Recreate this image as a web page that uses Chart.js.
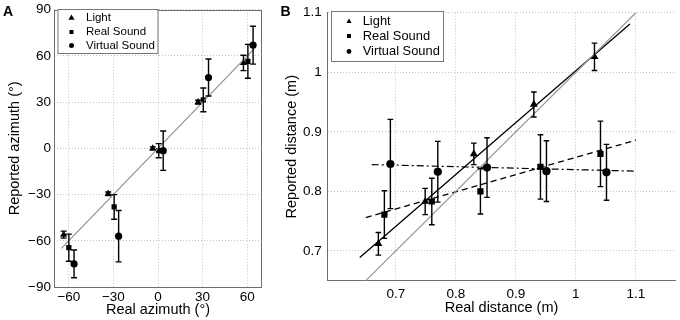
<!DOCTYPE html>
<html>
<head>
<meta charset="utf-8">
<script src="https://cdn.jsdelivr.net/npm/chart.js@4.4.1/dist/chart.umd.min.js"></script>
<style>
  html, body { margin: 0; padding: 0; background: #fff; }
  #wrap { position: relative; width: 680px; height: 320px; overflow: hidden; }
  canvas { position: absolute; top: 0; }
  #cA { left: 0; }
  #cB { left: 270px; }
</style>
</head>
<body>
<div id="wrap">
  <canvas id="cA" width="275" height="320"></canvas>
  <canvas id="cB" width="410" height="320"></canvas>
</div>
<script>
// ---------- Data ----------
const seriesNames = ['Light', 'Real Sound', 'Virtual Sound'];

// Panel A (azimuth, degrees)
const aLightX = [-63.5, -33.5, -3.5, 27, 57.5];
const aLightY = [-56, -29.5, 0, 30, 55.5];
const aLightErr = [2.3, 1.2, 1, 1.2, 5];
const aRealX = [-60, -29.5, 0.5, 30.5, 60.5];
const aRealY = [-64.5, -38, -1.5, 31.5, 56.5];
const aRealErr = [8.8, 8, 4.6, 7.7, 11];
const aVirtX = [-56.5, -26.5, 3.5, 34, 64];
const aVirtY = [-75, -57, -1.5, 46, 67];
const aVirtErr = [9, 16.7, 12.8, 12, 12.3];
const aIdentity = [-65, 65];
const aTicksX = [-60, -30, 0, 30, 60];
const aTicksY = [-90, -60, -30, 0, 30, 60, 90];

// Panel B (distance, m)
const bLightX = [0.671, 0.749, 0.830, 0.930, 1.031];
const bLightY = [0.712, 0.783, 0.863, 0.946, 1.026];
const bLightErr = [0.019, 0.022, 0.018, 0.021, 0.023];
const bRealX = [0.681, 0.760, 0.841, 0.941, 1.041];
const bRealY = [0.761, 0.783, 0.800, 0.841, 0.863];
const bRealErr = [0.040, 0.039, 0.038, 0.054, 0.055];
const bVirtX = [0.691, 0.770, 0.852, 0.951, 1.051];
const bVirtY = [0.846, 0.833, 0.840, 0.834, 0.832];
const bVirtErr = [0.075, 0.051, 0.050, 0.051, 0.047];
const bIdentity = [0.65, 1.1];
const bLightFitX = [0.64, 1.09];
const bLightFitY = [0.689, 1.081];
const bRealFitX = [0.65, 1.1];
const bRealFitY = [0.756, 0.886];
const bVirtFitX = [0.66, 1.1];
const bVirtFitY = [0.845, 0.834];
const bTicksX = [0.7, 0.8, 0.9, 1, 1.1];
const bTicksY = [0.7, 0.8, 0.9, 1, 1.1];

// ---------- Helpers ----------
const FONT = "'Liberation Sans', Arial, Helvetica, sans-serif";
Chart.defaults.font.family = FONT;
Chart.defaults.color = '#000';

const pts = (xs, ys) => xs.map((x, i) => ({ x: x, y: ys[i] }));
const fmt = v => (v < 0 ? '\u2212' + Math.abs(v) : String(v));
const setTicks = arr => (scale => { scale.ticks = arr.map(v => ({ value: v })); });

function drawMarker(ctx, style, x, y, r) {
  ctx.beginPath();
  if (style === 'triangle') {
    const w = r * Math.sqrt(3);
    ctx.moveTo(x, y - r);
    ctx.lineTo(x + w / 2, y + r / 2);
    ctx.lineTo(x - w / 2, y + r / 2);
    ctx.closePath();
  } else if (style === 'rect') {
    ctx.rect(x - r, y - r, 2 * r, 2 * r);
  } else {
    ctx.arc(x, y, r, 0, Math.PI * 2);
  }
  ctx.fill();
}

const errorBarPlugin = {
  id: 'errorBars',
  afterDatasetsDraw(chart, args, opts) {
    const { ctx, scales: { x, y } } = chart;
    ctx.save();
    ctx.strokeStyle = '#000';
    ctx.lineWidth = opts.lineWidth || 1.4;
    chart.data.datasets.forEach(ds => {
      if (!ds.errorBars) return;
      ds.data.forEach((p, i) => {
        const e = ds.errorBars[i];
        const px = x.getPixelForValue(p.x);
        const y1 = y.getPixelForValue(p.y + e);
        const y2 = y.getPixelForValue(p.y - e);
        const c = opts.cap || 3;
        ctx.beginPath();
        ctx.moveTo(px, y1); ctx.lineTo(px, y2);
        ctx.moveTo(px - c, y1); ctx.lineTo(px + c, y1);
        ctx.moveTo(px - c, y2); ctx.lineTo(px + c, y2);
        ctx.stroke();
      });
    });
    ctx.restore();
  }
};

const decorPlugin = {
  id: 'decor',
  afterDraw(chart, args, opts) {
    const ctx = chart.ctx;
    const ca = chart.chartArea;
    ctx.save();
    if (opts.frame) {
      ctx.strokeStyle = '#6e6e6e';
      ctx.lineWidth = 1;
      ctx.strokeRect(Math.round(ca.left) + 0.5, Math.round(ca.top) + 0.5,
        Math.round(ca.right - ca.left) - 1, Math.round(ca.bottom - ca.top));
    }
    const L = opts.legend;
    if (L) {
      ctx.fillStyle = '#fff';
      ctx.fillRect(L.x, L.y, L.w, L.h);
      ctx.strokeStyle = '#777';
      ctx.lineWidth = 1;
      ctx.strokeRect(L.x + 0.5, L.y + 0.5, L.w, L.h);
      ctx.font = L.fontSize + 'px ' + FONT;
      ctx.textBaseline = 'middle';
      ctx.textAlign = 'left';
      seriesNames.forEach((name, i) => {
        const yy = L.rows[i];
        ctx.fillStyle = '#000';
        drawMarker(ctx, L.styles[i], L.markerX, yy, L.sizes[i]);
        ctx.fillText(name, L.textX, yy);
      });
    }
    if (opts.letter) {
      ctx.fillStyle = '#000';
      ctx.font = 'bold 14px ' + FONT;
      ctx.textBaseline = 'alphabetic';
      ctx.textAlign = 'left';
      ctx.fillText(opts.letter.text, opts.letter.x, opts.letter.y);
    }
    ctx.restore();
  }
};

function scatterSet(xs, ys, errs, style, r) {
  return {
    data: pts(xs, ys), errorBars: errs, showLine: false,
    pointStyle: style, pointRadius: r, pointHoverRadius: r,
    backgroundColor: '#000', borderColor: '#000', borderWidth: 0
  };
}
function lineSet(xs, ys, color, width, dash) {
  return {
    data: pts(xs, ys), showLine: true, pointRadius: 0, pointHoverRadius: 0,
    borderColor: color, borderWidth: width, borderDash: dash || [], fill: false
  };
}

const gridCommon = { color: '#c4c4c4', lineWidth: 1, drawTicks: false };
const tickFont = { size: 13.5, family: FONT, lineHeight: 1.2 };
const titleFont = { size: 14.5, family: FONT, lineHeight: 1.2 };

// ---------- Panel A ----------
new Chart(document.getElementById('cA'), {
  type: 'scatter',
  data: {
    datasets: [
      lineSet(aIdentity, aIdentity, '#8c8c8c', 1.1),
      scatterSet(aLightX, aLightY, aLightErr, 'triangle', 4.2),
      scatterSet(aRealX, aRealY, aRealErr, 'rect', 3.7),
      scatterSet(aVirtX, aVirtY, aVirtErr, 'circle', 3.6)
    ]
  },
  options: {
    responsive: false, animation: false, devicePixelRatio: 1,
    layout: { padding: { top: 6, right: 13, bottom: 0, left: 0 } },
    plugins: {
      legend: { display: false }, tooltip: { enabled: false },
      errorBars: { lineWidth: 1.4, cap: 3 },
      decor: {
        frame: true,
        legend: { x: 57.5, y: 9, w: 100, h: 44, fontSize: 11.5, markerX: 71.5, textX: 86,
          rows: [18, 32, 45.5], styles: ['triangle', 'rect', 'circle'], sizes: [3.6, 2, 2.5] },
        letter: { text: 'A', x: 3, y: 16 }
      }
    },
    scales: {
      x: {
        type: 'linear', min: -70, max: 70,
        afterBuildTicks: setTicks(aTicksX),
        afterFit: s => { s.height = 33; },
        grid: gridCommon,
        border: { display: false, dash: [1, 2] },
        ticks: { font: tickFont, padding: 2, maxRotation: 0, autoSkip: false, callback: fmt, color: '#000' },
        title: { display: true, text: 'Real azimuth (°)', font: titleFont, color: '#000', padding: { top: 0, bottom: 1.3 } }
      },
      y: {
        type: 'linear', min: -90, max: 90,
        afterBuildTicks: setTicks(aTicksY),
        afterFit: s => { s.width = 54; },
        grid: gridCommon,
        border: { display: false, dash: [1, 2] },
        ticks: { font: { size: 13.5, family: FONT, lineHeight: 1 }, padding: 3, autoSkip: false, callback: fmt, color: '#000' },
        title: { display: true, text: 'Reported azimuth (°)', font: titleFont, color: '#000', padding: { top: 6.3, bottom: 0 } }
      }
    }
  },
  plugins: [errorBarPlugin, decorPlugin]
});

// ---------- Panel B ----------
new Chart(document.getElementById('cB'), {
  type: 'scatter',
  data: {
    datasets: [
      lineSet(bIdentity, bIdentity, '#9a9a9a', 1.2),
      lineSet(bLightFitX, bLightFitY, '#000', 1.3),
      lineSet(bRealFitX, bRealFitY, '#000', 1.3, [6, 4]),
      lineSet(bVirtFitX, bVirtFitY, '#000', 1.2, [7, 3, 2, 3]),
      scatterSet(bLightX, bLightY, bLightErr, 'triangle', 4.6),
      scatterSet(bRealX, bRealY, bRealErr, 'rect', 4.4),
      scatterSet(bVirtX, bVirtY, bVirtErr, 'circle', 4.1)
    ]
  },
  options: {
    responsive: false, animation: false, devicePixelRatio: 1,
    layout: { padding: { top: 7.5, right: 0, bottom: 0, left: 0 } },
    plugins: {
      legend: { display: false }, tooltip: { enabled: false },
      errorBars: { lineWidth: 1.4, cap: 2.8 },
      decor: {
        frame: false,
        legend: { x: 61, y: 11, w: 112, h: 50, fontSize: 12.9, markerX: 79, textX: 92.7,
          rows: [21.5, 36, 51.5], styles: ['triangle', 'rect', 'circle'], sizes: [3, 2, 2.4] },
        letter: { text: 'B', x: 10.5, y: 16 }
      }
    },
    scales: {
      x: {
        type: 'linear', min: 0.5866, max: 1.1658,
        afterBuildTicks: setTicks(bTicksX),
        afterFit: s => { s.height = 39.3; },
        grid: gridCommon,
        border: { display: true, color: '#6e6e6e', width: 1, dash: [1, 2] },
        ticks: { font: tickFont, padding: 5.2, maxRotation: 0, autoSkip: false, callback: fmt, color: '#000' },
        title: { display: true, text: 'Real distance (m)', font: titleFont, color: '#000', padding: { top: 0, bottom: 3.3 } }
      },
      y: {
        type: 'linear', min: 0.65, max: 1.1,
        afterBuildTicks: setTicks(bTicksY),
        afterFit: s => { s.width = 57.7; },
        grid: gridCommon,
        border: { display: true, color: '#6e6e6e', width: 1, dash: [1, 2] },
        ticks: { font: { size: 13.5, family: FONT, lineHeight: 1 }, padding: 6, autoSkip: false, callback: fmt, color: '#000' },
        title: { display: true, text: 'Reported distance (m)', font: titleFont, color: '#000', padding: { top: 13, bottom: 0 } }
      }
    }
  },
  plugins: [errorBarPlugin, decorPlugin]
});
</script>
</body>
</html>
